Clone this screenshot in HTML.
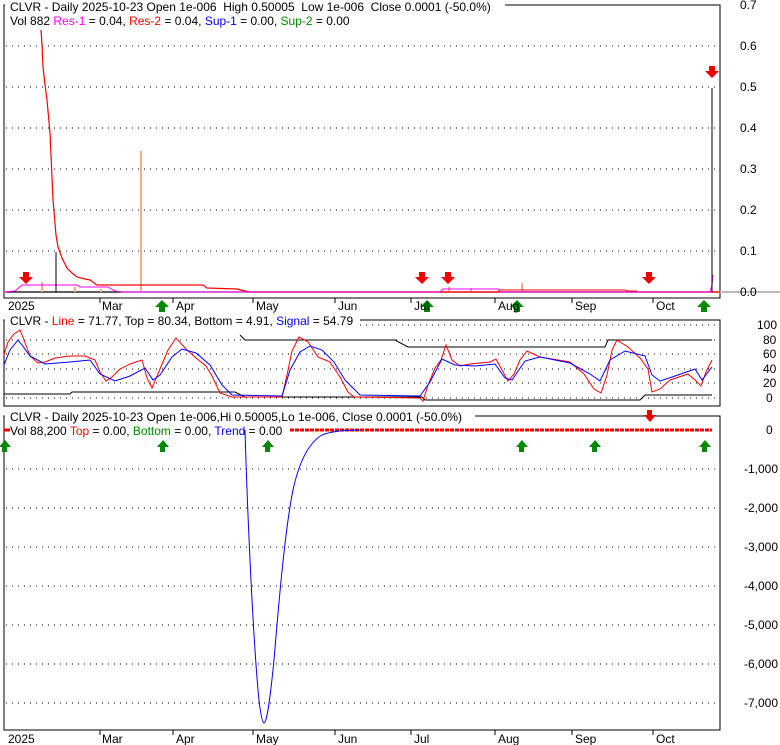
<!DOCTYPE html><html><head><style>body{margin:0;background:#fff}svg{display:block;font-family:"Liberation Sans",sans-serif}text{white-space:pre}</style></head><body>
<svg width="780" height="745" xmlns="http://www.w3.org/2000/svg" font-size="12">
<rect width="780" height="745" fill="#fff"/>
<!-- Panel 1 -->
<path d="M4 5H720V298H4Z" stroke="#000" fill="none"/>
<g stroke="#000" stroke-dasharray="1,5" stroke-width="1">
<line x1="6" y1="46" x2="720" y2="46"/><line x1="6" y1="87" x2="720" y2="87"/><line x1="6" y1="128" x2="720" y2="128"/><line x1="6" y1="169" x2="720" y2="169"/><line x1="6" y1="210" x2="720" y2="210"/><line x1="6" y1="251" x2="720" y2="251"/>
</g>
<line x1="4" y1="292" x2="780" y2="292" stroke="#bbb" stroke-width="2"/>
<line x1="4" y1="292" x2="720" y2="292" stroke="#000"/>
<g fill="#000" font-size="12">
<text x="740" y="9">0.7</text><text x="740" y="50">0.6</text><text x="740" y="91">0.5</text><text x="740" y="132">0.4</text><text x="740" y="173">0.3</text><text x="740" y="214">0.2</text><text x="740" y="255">0.1</text><text x="740" y="296">0.0</text>
</g>
<g fill="#f9a98a">
<rect x="140" y="151" width="2" height="141"/><rect x="41" y="282" width="2" height="10"/><rect x="521" y="283" width="2" height="9"/><rect x="448" y="287" width="2" height="5"/><rect x="470" y="288" width="2" height="4"/><rect x="74" y="287" width="2" height="5"/><rect x="100" y="289" width="2" height="3"/>
</g>
<path d="M41 30L42 45L43 67L45 85L47 100L50 133L53 200L56 235L58 247L62 258L67 268L72 273L77 277L85 279L90 280L97 285L203 285L207 288L237 289L245 291L250 292H720" stroke="#f00" fill="none" stroke-width="1.2"/>
<path d="M4 292L15 291L22 285L77 285L80 287L108 287L115 291L123 292H440L443 289L498 289L500 292H710L712 285L713 275" stroke="#f0f" fill="none"/>
<path d="M498 290L625 290L628 291L637 291" stroke="#f00" fill="none"/>
<line x1="56" y1="252" x2="56" y2="292" stroke="#000"/>
<line x1="712" y1="88" x2="712" y2="292" stroke="#000"/>
<g fill="#e00">
<path d="M23 272h6v5h4l-7 7-7-7h4z"/><path d="M419 272h6v5h4l-7 7-7-7h4z"/><path d="M445 272h6v5h4l-7 7-7-7h4z"/><path d="M646 272h6v5h4l-7 7-7-7h4z"/><path d="M709 66h6v5h4l-7 7-7-7h4z"/>
</g>
<g fill="#080">
<path d="M159 312h6v-5h4l-7-7-7 7h4z"/><path d="M424 312h6v-5h4l-7-7-7 7h4z"/><path d="M514 312h6v-5h4l-7-7-7 7h4z"/><path d="M701 312h6v-5h4l-7-7-7 7h4z"/>
</g>
<rect x="5" y="0" width="500" height="13" fill="#fff"/>
<text x="10" y="11">CLVR - Daily 2025-10-23 Open 1e-006  High 0.50005  Low 1e-006  Close 0.0001 (-50.0%)</text>
<text x="10" y="25">Vol 882 <tspan fill="#f0f">Res-1</tspan> = 0.04, <tspan fill="#f00">Res-2</tspan> = 0.04, <tspan fill="#00f">Sup-1</tspan> = 0.00, <tspan fill="#080">Sup-2</tspan> = 0.00</text>
<g stroke="#000"><line x1="100" y1="298" x2="100" y2="303"/><line x1="173" y1="298" x2="173" y2="303"/><line x1="253" y1="298" x2="253" y2="303"/><line x1="335" y1="298" x2="335" y2="303"/><line x1="411" y1="298" x2="411" y2="303"/><line x1="495" y1="298" x2="495" y2="303"/><line x1="572" y1="298" x2="572" y2="303"/><line x1="653" y1="298" x2="653" y2="303"/></g>
<g font-size="12"><text x="8" y="310">2025</text><text x="102" y="310">Mar</text><text x="176" y="310">Apr</text><text x="256" y="310">May</text><text x="338" y="310">Jun</text><text x="414" y="310">Jul</text><text x="498" y="310">Aug</text><text x="575" y="310">Sep</text><text x="656" y="310">Oct</text></g>
<!-- Panel 2 -->
<path d="M4 320H720V406H4Z" stroke="#000" fill="none"/>
<g stroke="#000" stroke-dasharray="1,5"><line x1="6" y1="340" x2="720" y2="340"/><line x1="6" y1="354" x2="720" y2="354"/><line x1="6" y1="369" x2="720" y2="369"/><line x1="6" y1="383" x2="720" y2="383"/><line x1="6" y1="398" x2="720" y2="398"/><line x1="6" y1="325" x2="720" y2="325"/></g>
<g font-size="12"><text x="757" y="329">100</text><text x="763" y="344">80</text><text x="763" y="358">60</text><text x="763" y="373">40</text><text x="763" y="387">20</text><text x="766" y="402">0</text></g>
<path d="M4 394H70L72 392H235L245 397H422L425 400H640L645 395H712" stroke="#000" fill="none"/>
<path d="M240 335L245 340H395L408 347H605L608 340H712" stroke="#000" fill="none"/>
<path d="M4 355L8 342L14 334L20 330L24 340L30 356L38 363L45 362L55 358L70 356L85 356L95 360L100 372L106 381L112 377L120 369L130 364L142 360L147 378L152 388L160 369L168 350L176 338L186 349L196 358L206 366L212 376L220 393L232 397L282 397L287 375L292 351L299 337L308 342L318 357L330 362L340 377L348 392L354 397L420 398L423 401L428 385L435 368L441 360L446 345L452 360L460 366L470 364L490 362L496 359L502 370L508 381L514 374L520 360L527 351L540 357L570 362L584 374L594 389L601 393L607 375L612 350L617 340L628 347L640 358L648 369L652 392L660 389L670 380L688 374L695 380L701 386L706 372L712 360" stroke="#f00" fill="none"/>
<path d="M4 365L10 350L18 340L22 345L30 356L45 364L70 362L90 360L100 374L115 381L130 376L145 368L153 380L160 375L172 357L182 349L196 353L210 365L222 385L232 395L282 396L290 370L300 352L310 346L322 350L334 362L345 380L360 395L420 396L430 382L442 359L455 365L475 366L495 364L505 378L512 380L525 361L540 357L570 363L590 374L600 381L610 360L625 351L645 356L652 375L660 381L675 376L695 369L702 380L712 367" stroke="#00f" fill="none"/>
<rect x="5" y="314" width="355" height="13" fill="#fff"/>
<text x="10" y="325">CLVR - <tspan fill="#f00">Line</tspan> = 71.77, Top = 80.34, Bottom = 4.91, <tspan fill="#00f">Signal</tspan> = 54.79</text>
<!-- Panel 3 -->
<path d="M4 416H720V730H4Z" stroke="#000" fill="none"/>
<g stroke="#000" stroke-dasharray="1,5"><line x1="6" y1="469" x2="720" y2="469"/><line x1="6" y1="508" x2="720" y2="508"/><line x1="6" y1="547" x2="720" y2="547"/><line x1="6" y1="586" x2="720" y2="586"/><line x1="6" y1="625" x2="720" y2="625"/><line x1="6" y1="664" x2="720" y2="664"/><line x1="6" y1="703" x2="720" y2="703"/></g>
<g font-size="12"><text x="766" y="434">0</text><text x="744" y="473">-1,000</text><text x="744" y="512">-2,000</text><text x="744" y="551">-3,000</text><text x="744" y="590">-4,000</text><text x="744" y="629">-5,000</text><text x="744" y="668">-6,000</text><text x="744" y="707">-7,000</text></g>
<line x1="290" y1="430" x2="712" y2="430" stroke="#e00" stroke-width="3" stroke-dasharray="4,1"/>
<line x1="4" y1="430" x2="10" y2="430" stroke="#e00" stroke-width="3"/>
<path d="M245 430C247 500 252 620 258 690C260 712 262 722 264 723C267 722 270 700 274 660C279 600 285 530 293 490C300 458 310 442 322 435C332 431 345 430 360 430" stroke="#00f" fill="none"/>
<g fill="#080">
<path d="M2 452h5v-5h4l-6-7-6 7h3z"/><path d="M160 452h5v-5h4l-6-7-6 7h3z"/><path d="M265 452h5v-5h4l-6-7-6 7h3z"/><path d="M519 452h5v-5h4l-6-7-6 7h3z"/><path d="M592 452h5v-5h4l-6-7-6 7h3z"/><path d="M702 452h5v-5h4l-6-7-6 7h3z"/>
</g>
<path d="M647 410h5v5h4l-6 7-6-7h3z" fill="#e00"/>
<rect x="5" y="410" width="470" height="13" fill="#fff"/>
<text x="10" y="421">CLVR - Daily 2025-10-23 Open 1e-006,Hi 0.50005,Lo 1e-006, Close 0.0001 (-50.0%)</text>
<text x="10" y="435">Vol 88,200 <tspan fill="#f00">Top</tspan> = 0.00, <tspan fill="#080">Bottom</tspan> = 0.00, <tspan fill="#00f">Trend</tspan> = 0.00</text>
<g stroke="#000"><line x1="100" y1="730" x2="100" y2="735"/><line x1="173" y1="730" x2="173" y2="735"/><line x1="253" y1="730" x2="253" y2="735"/><line x1="335" y1="730" x2="335" y2="735"/><line x1="411" y1="730" x2="411" y2="735"/><line x1="495" y1="730" x2="495" y2="735"/><line x1="572" y1="730" x2="572" y2="735"/><line x1="653" y1="730" x2="653" y2="735"/></g>
<g font-size="12"><text x="8" y="743">2025</text><text x="102" y="743">Mar</text><text x="176" y="743">Apr</text><text x="256" y="743">May</text><text x="338" y="743">Jun</text><text x="414" y="743">Jul</text><text x="498" y="743">Aug</text><text x="575" y="743">Sep</text><text x="656" y="743">Oct</text></g>
</svg>
</body></html>
